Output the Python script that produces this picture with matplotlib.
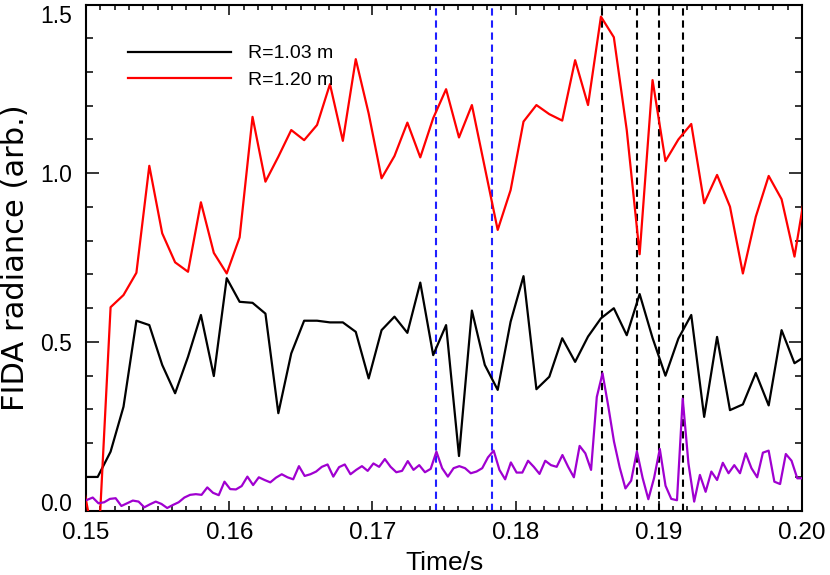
import numpy as np
import matplotlib
matplotlib.use("Agg")
import matplotlib.pyplot as plt
from matplotlib.ticker import MultipleLocator, FixedLocator

# ---- data ----
# R=1.03 m and R=1.20 m channels: regular sampling
t0_main = 0.149915
dt_main = 0.0009011
black_vals = [0.100, 0.100, 0.175, 0.308, 0.563, 0.550, 0.432, 0.348, 0.456, 0.580,
              0.399, 0.689, 0.619, 0.616, 0.584, 0.289, 0.466, 0.563, 0.563, 0.558,
              0.558, 0.530, 0.392, 0.535, 0.575, 0.527, 0.676, 0.461, 0.550, 0.162,
              0.593, 0.432, 0.358, 0.560, 0.695, 0.360, 0.397, 0.511, 0.441, 0.516,
              0.570, 0.600, 0.520, 0.642, 0.512, 0.400, 0.510, 0.580, 0.278, 0.515,
              0.298, 0.315, 0.408, 0.312, 0.535, 0.437, 0.462]
red_vals = [0.050, -0.150, 0.603, 0.639, 0.705, 1.022, 0.822, 0.736, 0.708, 0.914,
            0.764, 0.703, 0.810, 1.167, 0.975, 1.049, 1.128, 1.098, 1.143, 1.264,
            1.096, 1.338, 1.177, 0.985, 1.051, 1.150, 1.047, 1.163, 1.249, 1.106,
            1.202, 1.017, 0.832, 0.950, 1.153, 1.202, 1.175, 1.156, 1.335, 1.202,
            1.464, 1.403, 1.128, 0.760, 1.276, 1.036, 1.100, 1.146, 0.911, 0.995,
            0.901, 0.703, 0.871, 0.992, 0.923, 0.753, 0.984]

# purple (unlabelled) channel: finer sampling
t0_fine = 0.15007
dt_fine = 0.0004
purple_vals = [0.032, 0.039, 0.022, 0.025, 0.035, 0.037, 0.014, 0.022, 0.030, 0.027,
               0.010, 0.019, 0.027, 0.020, 0.008, 0.017, 0.025, 0.039, 0.047, 0.049,
               0.047, 0.069, 0.053, 0.046, 0.086, 0.064, 0.063, 0.073, 0.101, 0.076,
               0.099, 0.091, 0.084, 0.098, 0.108, 0.099, 0.093, 0.132, 0.103, 0.108,
               0.116, 0.130, 0.137, 0.101, 0.129, 0.137, 0.108, 0.121, 0.132, 0.118,
               0.140, 0.130, 0.153, 0.130, 0.114, 0.118, 0.147, 0.121, 0.135, 0.114,
               0.124, 0.175, 0.126, 0.101, 0.126, 0.132, 0.126, 0.111, 0.116, 0.126,
               0.158, 0.178, 0.121, 0.093, 0.143, 0.113, 0.113, 0.148, 0.130, 0.109,
               0.148, 0.135, 0.130, 0.165, 0.130, 0.099, 0.192, 0.170, 0.121, 0.337,
               0.407, 0.310, 0.205, 0.128, 0.066, 0.089, 0.176, 0.097, 0.034, 0.097,
               0.183, 0.074, 0.035, 0.031, 0.332, 0.140, 0.027, 0.106, 0.056, 0.116,
               0.091, 0.142, 0.111, 0.135, 0.111, 0.170, 0.126, 0.099, 0.172, 0.178,
               0.086, 0.079, 0.168, 0.148, 0.096, 0.096]

blue_lines = [0.17447, 0.17836]
black_lines = [0.18603, 0.18846, 0.19004, 0.19168]

labels = ["R=1.03 m", "R=1.20 m"]
xticks = [0.15, 0.16, 0.17, 0.18, 0.19, 0.20]
xticklabels = ["0.15", "0.16", "0.17", "0.18", "0.19", "0.20"]
yticks = [0.0, 0.5, 1.0, 1.5]
yticklabels = ["0.0", "0.5", "1.0", "1.5"]

t_main = t0_main + dt_main * np.arange(len(black_vals))
t_fine = t0_fine + dt_fine * np.arange(len(purple_vals))

# ---- figure ----
plt.rcParams['font.family'] = ['Liberation Sans', 'DejaVu Sans']

fig = plt.figure(figsize=(8.30, 5.75), dpi=100)
ax = fig.add_axes([86/830, 1 - 510.7/575, (802 - 86)/830, (510.7 - 4.5)/575])

ax.plot(t_main, black_vals, color='black', lw=1.6, label=labels[0], zorder=3)
ax.plot(t_main, red_vals, color='#FF0000', lw=1.6, label=labels[1], zorder=3)
ax.plot(t_fine, purple_vals, color='#A000D0', lw=1.6, zorder=3)

for x in blue_lines:
    ax.axvline(x, color='#2020FF', lw=1.5, ls=(0, (3.5, 2.3)), zorder=2)
for x in black_lines:
    ax.axvline(x, color='black', lw=1.5, ls=(0, (3.5, 2.3)), zorder=2)

ax.set_xlim(0.15, 0.20)
ax.set_ylim(0.0, 1.5)

ax.xaxis.set_major_locator(FixedLocator(xticks))
ax.set_xticklabels(xticklabels, fontsize=17.5)
ax.xaxis.set_minor_locator(MultipleLocator(0.001))
ax.yaxis.set_major_locator(FixedLocator(yticks))
ax.set_yticklabels(yticklabels, fontsize=16.5)
ax.yaxis.set_minor_locator(MultipleLocator(0.1))

ax.tick_params(axis='both', which='both', direction='in', top=True, right=True, width=1.1)
ax.tick_params(axis='x', which='major', length=7.2, pad=8.3)
ax.tick_params(axis='x', which='minor', length=3.4)
ax.tick_params(axis='y', which='major', length=9.6, pad=10)
ax.tick_params(axis='y', which='minor', length=4.8)

ylabs = ax.get_yticklabels()
ylabs[0].set_va('baseline')
ylabs[-1].set_va('top')

for s in ax.spines.values():
    s.set_linewidth(1.5)

ax.set_xlabel("Time/s", fontsize=19)
ax.xaxis.set_label_coords(0.5, -0.0796)
ax.set_ylabel("FIDA radiance (arb.)", family=['DejaVu Sans'], fontsize=22, va='center')
ax.yaxis.set_label_coords(-0.099, 0.5)

leg = ax.legend(loc='upper left', bbox_to_anchor=(0.0478, 0.9356), frameon=False,
                fontsize=14, handlelength=5.3, handletextpad=0.88, labelspacing=0.45,
                borderaxespad=0)

fig.savefig("out.png", dpi=100)
